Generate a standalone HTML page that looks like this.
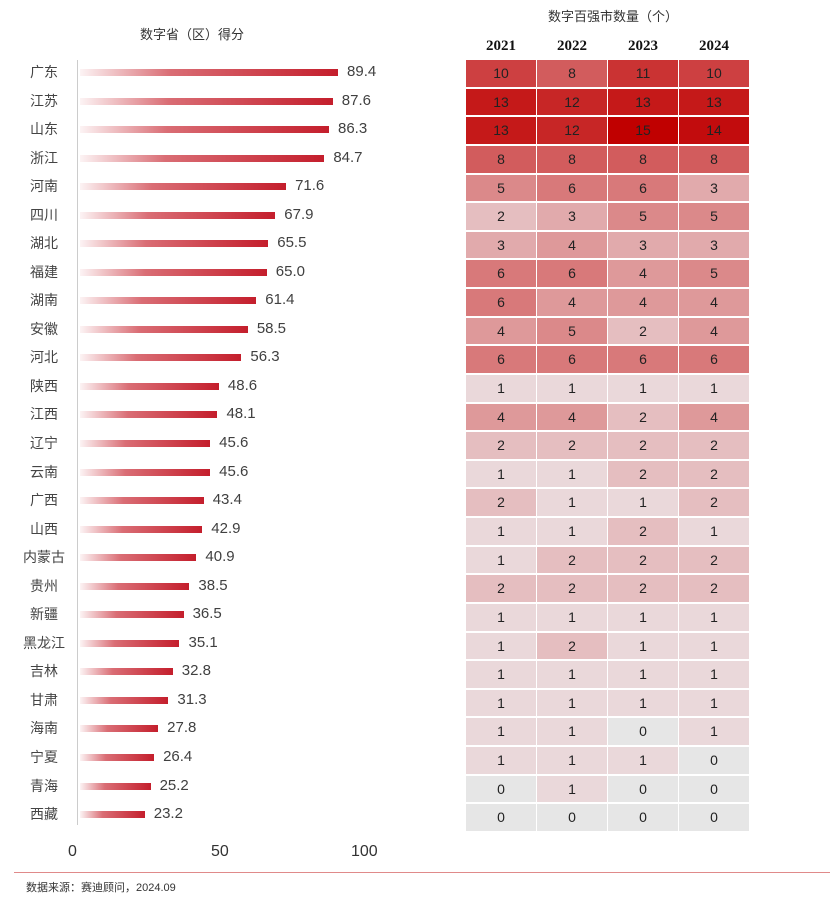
<!DOCTYPE html>
<html><head><meta charset="utf-8"><style>
body{margin:0;width:830px;height:902px;background:#fff;position:relative;font-family:"Liberation Sans","Noto Sans CJK SC",sans-serif;overflow:hidden}
.a{position:absolute}
.lab{font-size:14px;color:#444;width:60px;text-align:center;left:14px}
.bar{height:7px;background:linear-gradient(90deg,rgba(200,30,45,0.05),rgba(205,60,70,0.75) 35%,#c41e2c)}
.val{font-size:15px;color:#404040}
.cell{width:70px;text-align:center;font-size:14px;color:#222;box-sizing:border-box}
.yr{font-family:"Liberation Serif",serif;font-weight:bold;font-size:15px;color:#111;width:70px;text-align:center}
</style></head><body>
<div class="a" style="left:140px;top:24px;font-size:13px;color:#333">数字省（区）得分</div>
<div class="a" style="left:548px;top:6px;font-size:13px;color:#333">数字百强市数量（个）</div>
<div class="a" style="left:77px;top:60px;width:1px;height:765px;background:#ccc"></div>
<div class="a" style="left:68px;top:843px;font-size:16px;color:#333">0</div>
<div class="a" style="left:211px;top:843px;font-size:16px;color:#333">50</div>
<div class="a" style="left:351px;top:843px;font-size:16px;color:#333">100</div>
<div class="a" style="left:14px;top:872px;width:816px;height:1px;background:#e08a8a"></div>
<div class="a" style="left:26px;top:879px;font-size:11px;color:#333">数据来源：赛迪顾问，2024.09</div>
<div id="c"></div>
<script>
var d=[["广东",89.4,[10,8,11,10]],["江苏",87.6,[13,12,13,13]],["山东",86.3,[13,12,15,14]],["浙江",84.7,[8,8,8,8]],["河南",71.6,[5,6,6,3]],["四川",67.9,[2,3,5,5]],["湖北",65.5,[3,4,3,3]],["福建",65.0,[6,6,4,5]],["湖南",61.4,[6,4,4,4]],["安徽",58.5,[4,5,2,4]],["河北",56.3,[6,6,6,6]],["陕西",48.6,[1,1,1,1]],["江西",48.1,[4,4,2,4]],["辽宁",45.6,[2,2,2,2]],["云南",45.6,[1,1,2,2]],["广西",43.4,[2,1,1,2]],["山西",42.9,[1,1,2,1]],["内蒙古",40.9,[1,2,2,2]],["贵州",38.5,[2,2,2,2]],["新疆",36.5,[1,1,1,1]],["黑龙江",35.1,[1,2,1,1]],["吉林",32.8,[1,1,1,1]],["甘肃",31.3,[1,1,1,1]],["海南",27.8,[1,1,0,1]],["宁夏",26.4,[1,1,1,0]],["青海",25.2,[0,1,0,0]],["西藏",23.2,[0,0,0,0]]];
var h="",yrs=[2021,2022,2023,2024],xs=[466,537,608,679];
yrs.forEach(function(y,i){h+='<div class="a yr" style="left:'+xs[i]+'px;top:38px">'+y+'</div>'});
function col(v){if(v==0)return"#e6e6e6";var t=Math.pow((v-1)/14,0.8);var a=[234,216,218],b=[192,0,0];return"rgb("+a.map(function(c,k){return Math.round(c+(b[k]-c)*t)}).join(",")+")"}
var rh=28.63;
d.forEach(function(r,i){var cy=72+i*28.54;
h+='<div class="a lab" style="top:'+(cy-10)+'px">'+r[0]+'</div>';
var w=r[1]*2.92;h+='<div class="a bar" style="left:80px;top:'+(cy-3)+'px;width:'+(w-3)+'px"></div>';
h+='<div class="a val" style="left:'+(80+w+6)+'px;top:'+(cy-9)+'px">'+r[1].toFixed(1)+'</div>';
var top=60+i*rh;
r[2].forEach(function(v,j){h+='<div class="a cell" style="left:'+xs[j]+'px;top:'+top+'px;height:'+(rh-2)+'px;line-height:'+(rh-2)+'px;background:'+col(v)+'">'+v+'</div>'});
});
document.getElementById("c").innerHTML=h;
</script>
</body></html>
